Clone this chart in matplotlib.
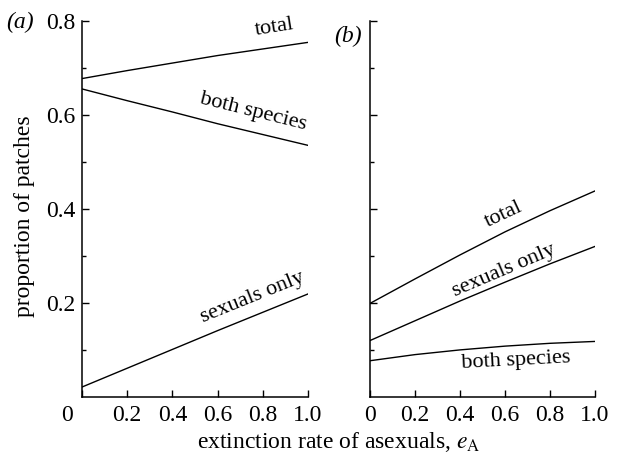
import numpy as np
import matplotlib.pyplot as plt
import matplotlib.transforms as mtransforms

# 字体：Times 风格
plt.rcParams['font.family'] = ['Liberation Serif', 'DejaVu Serif']
plt.rcParams['mathtext.fontset'] = 'stix'

# x 轴：无性种的灭绝率
e_A = [0.0, 0.2, 0.4, 0.6, 0.8, 1.0]

# (a) 面板的数据
a_total = [0.677, 0.694, 0.710, 0.726, 0.740, 0.754]
a_both = [0.655, 0.630, 0.606, 0.581, 0.558, 0.535]
a_sexual = [0.021, 0.061, 0.101, 0.141, 0.180, 0.219]

# (b) 面板的数据
b_total = [0.199, 0.251, 0.302, 0.351, 0.396, 0.438]
b_sexual = [0.120, 0.162, 0.204, 0.244, 0.283, 0.320]
b_both = [0.077, 0.090, 0.100, 0.108, 0.114, 0.118]

x_ticks = [0, 0.2, 0.4, 0.6, 0.8, 1.0]
x_ticklabels = ['0', '0.2', '0.4', '0.6', '0.8', '1.0']
y_ticks = [0.2, 0.4, 0.6, 0.8]
y_ticklabels = ['0.2', '0.4', '0.6', '0.8']

fig = plt.figure(figsize=(6.21, 4.61), dpi=100)
ax1 = fig.add_axes([0.132, 0.139, 0.364, 0.816])
ax2 = fig.add_axes([0.596, 0.139, 0.362, 0.816])


def style_axis(ax):
    ax.set_xlim(0, 1.0)
    ax.set_ylim(0, 0.8)
    ax.spines['top'].set_visible(False)
    ax.spines['right'].set_visible(False)
    ax.spines['left'].set_linewidth(1.1)
    ax.spines['bottom'].set_linewidth(1.1)
    ax.set_xticks(x_ticks)
    ax.set_xticklabels(x_ticklabels)
    ax.set_yticks(y_ticks)
    ax.set_yticks([0.1, 0.3, 0.5, 0.7], minor=True)
    ax.tick_params(which='major', direction='in', length=5, width=1.0, labelsize=17, pad=6)
    ax.tick_params(which='minor', direction='in', length=3, width=1.0)


style_axis(ax1)
style_axis(ax2)
ax1.set_yticklabels(y_ticklabels)
ax1.tick_params(axis='y', pad=5)
ax2.set_yticklabels([])

# 左图的 "0" 向左移一些
lbl0 = ax1.get_xticklabels()[0]
lbl0.set_transform(lbl0.get_transform() + mtransforms.ScaledTranslation(-15 / 100, 0, fig.dpi_scale_trans))

lw = 1.0
ax1.plot(e_A, a_total, color='black', lw=lw)
ax1.plot(e_A, a_both, color='black', lw=lw)
ax1.plot(e_A, a_sexual, color='black', lw=lw)
ax2.plot(e_A, b_total, color='black', lw=lw)
ax2.plot(e_A, b_sexual, color='black', lw=lw)
ax2.plot(e_A, b_both, color='black', lw=lw)

# 曲线上的文字标注
fs = 16
ax1.text(0.854, 0.785, 'total', rotation=9, fontsize=fs, ha='center', va='center')
ax1.text(0.757, 0.606, 'both species', rotation=-14, fontsize=fs, ha='center', va='center')
ax1.text(0.754, 0.211, 'sexuals only', rotation=22, fontsize=fs, ha='center', va='center')
ax2.text(0.596, 0.387, 'total', rotation=25, fontsize=fs, ha='center', va='center')
ax2.text(0.596, 0.268, 'sexuals only', rotation=23, fontsize=fs, ha='center', va='center')
ax2.text(0.649, 0.077, 'both species', rotation=3, fontsize=fs, ha='center', va='center')

# 面板编号
fig.text(0.032, 0.952, '(a)', fontsize=17, style='italic', ha='center', va='center')
fig.text(0.560, 0.922, '(b)', fontsize=17, style='italic', ha='center', va='center')

# 坐标轴标题
fig.text(0.040, 0.530, 'proportion of patches', fontsize=17, rotation=90, ha='center', va='center')
fig.text(0.546, 0.042, r'extinction rate of asexuals, $e_{\mathrm{A}}$', fontsize=17, ha='center', va='center')

plt.savefig('out.png', dpi=100)
